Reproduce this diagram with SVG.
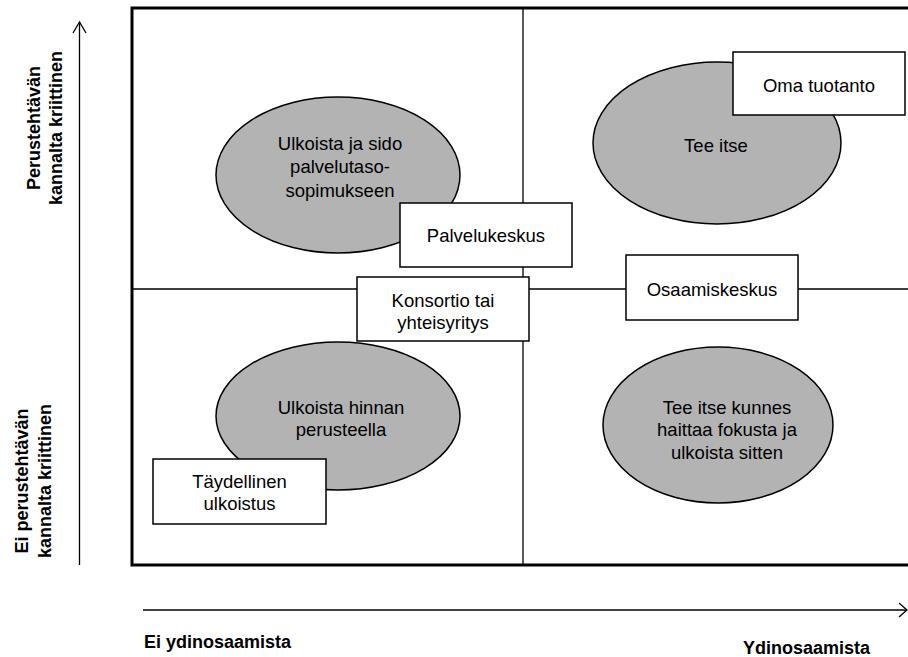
<svg xmlns="http://www.w3.org/2000/svg" width="908" height="657" viewBox="0 0 908 657">
  <style>
    .frame { fill: none; stroke: #000; stroke-width: 3; }
    .grid { stroke: #000; stroke-width: 1.3; fill: none; }
    .axis { stroke: #000; stroke-width: 1.3; fill: none; }
    .blob { fill: #b3b3b3; stroke: #000; stroke-width: 1.5; }
    .box { fill: #fff; stroke: #000; stroke-width: 1.5; }
    .lbl { font-family: "Liberation Sans", Arial, sans-serif; font-size: 18.5px; fill: #000; text-anchor: middle; }
    .ax { font-family: "Liberation Sans", Arial, sans-serif; font-size: 18px; font-weight: bold; fill: #000; }
  </style>

  <rect width="908" height="657" fill="#fff"/>

  <!-- quadrant frame and dividers -->
  <g id="grid">
    <rect class="frame" x="132" y="8" width="790" height="557"/>
    <line class="grid" x1="523" y1="8" x2="523" y2="565"/>
    <line class="grid" x1="132" y1="289" x2="908" y2="289"/>
  </g>

  <!-- axis arrows -->
  <g id="connectors">
    <line class="axis" x1="79.5" y1="565" x2="79.5" y2="22"/>
    <polyline class="axis" points="73,33 79.5,22 86,33"/>
    <line class="axis" x1="143" y1="610" x2="907" y2="610"/>
    <polyline class="axis" points="899,603 907,610 899,617"/>
  </g>

  <!-- axis labels -->
  <g id="axis-labels">
    <text class="ax" text-anchor="middle" transform="translate(40,128) rotate(-90)">Perustehtävän</text>
    <text class="ax" text-anchor="middle" transform="translate(62,128) rotate(-90)">kannalta kriittinen</text>
    <text class="ax" text-anchor="middle" transform="translate(28,481) rotate(-90)">Ei perustehtävän</text>
    <text class="ax" text-anchor="middle" transform="translate(51,481) rotate(-90)">kannalta kriittinen</text>
    <text class="ax" x="144" y="648">Ei ydinosaamista</text>
    <text class="ax" x="743" y="654">Ydinosaamista</text>
  </g>

  <!-- strategy ellipses -->
  <g id="outsource-sla">
    <ellipse class="blob" cx="338" cy="175" rx="122" ry="78"/>
    <text class="lbl"><tspan x="340" y="149.5">Ulkoista ja sido</tspan><tspan x="340" y="173">palvelutaso-</tspan><tspan x="340" y="196.5">sopimukseen</tspan></text>
  </g>
  <g id="do-it-yourself">
    <ellipse class="blob" cx="717" cy="143" rx="124" ry="81"/>
    <text class="lbl" x="716" y="151.5">Tee itse</text>
  </g>
  <g id="outsource-price">
    <ellipse class="blob" cx="338" cy="416" rx="122" ry="74"/>
    <text class="lbl"><tspan x="341" y="413.5">Ulkoista hinnan</tspan><tspan x="341" y="436">perusteella</tspan></text>
  </g>
  <g id="do-until-focus">
    <ellipse class="blob" cx="718" cy="425" rx="115" ry="78"/>
    <text class="lbl"><tspan x="727" y="413.5">Tee itse kunnes</tspan><tspan x="727" y="436">haittaa fokusta ja</tspan><tspan x="727" y="458.5">ulkoista sitten</tspan></text>
  </g>

  <!-- sourcing model boxes -->
  <g id="own-production">
    <rect class="box" x="733" y="52" width="172" height="63"/>
    <text class="lbl" x="819" y="91.5">Oma tuotanto</text>
  </g>
  <g id="service-center">
    <rect class="box" x="400" y="203" width="172" height="64"/>
    <text class="lbl" x="486" y="242">Palvelukeskus</text>
  </g>
  <g id="consortium">
    <rect class="box" x="357" y="277" width="172" height="64"/>
    <text class="lbl"><tspan x="443" y="306.5">Konsortio tai</tspan><tspan x="443" y="328.5">yhteisyritys</tspan></text>
  </g>
  <g id="competence-center">
    <rect class="box" x="626" y="255" width="172" height="65"/>
    <text class="lbl" x="712" y="295.5">Osaamiskeskus</text>
  </g>
  <g id="full-outsourcing">
    <rect class="box" x="153" y="459" width="173" height="65"/>
    <text class="lbl"><tspan x="239.5" y="488">Täydellinen</tspan><tspan x="239.5" y="510">ulkoistus</tspan></text>
  </g>
</svg>
